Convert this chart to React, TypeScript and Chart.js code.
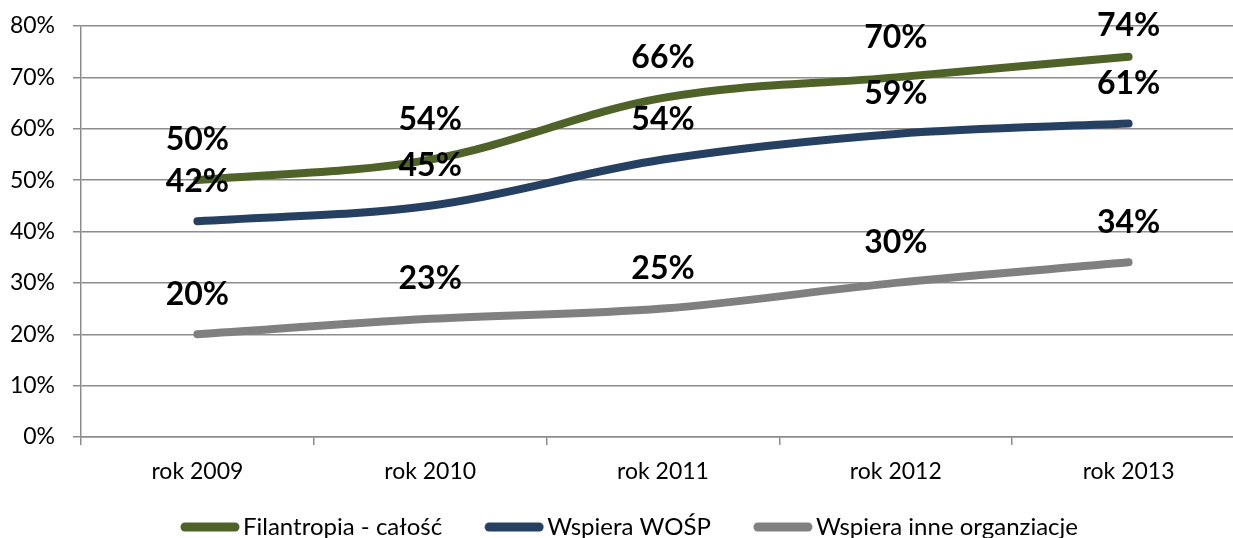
import React, { useEffect, useRef } from 'react';
import { Chart, registerables } from 'chart.js';

Chart.register(...registerables);

const categories = ['rok 2009', 'rok 2010', 'rok 2011', 'rok 2012', 'rok 2013'];
const filantropiaValues = [50, 54, 66, 70, 74];
const wospValues = [42, 45, 54, 59, 61];
const inneValues = [20, 23, 25, 30, 34];
const seriesNames = ['Filantropia - całość', 'Wspiera WOŚP', 'Wspiera inne organziacje'];
const seriesColors = ['#4F6228', '#254061', '#808080'];
const yMin = 0;
const yMax = 80;
const yStep = 10;

const FONT = 'Lato, sans-serif';
const GRID = '#8c8c8c';
const LEGEND_FONT = 24;
const LEGEND_BOX = 64;

function makeSample(color: string): HTMLCanvasElement {
  // visible line (60px) sits at the right end of a wider transparent image
  const w = LEGEND_BOX + LEGEND_FONT * 0.75;
  const c = document.createElement('canvas');
  c.width = Math.round(w);
  c.height = 10;
  const ctx = c.getContext('2d')!;
  ctx.strokeStyle = color;
  ctx.lineWidth = 9;
  ctx.lineCap = 'round';
  ctx.beginPath();
  ctx.moveTo(c.width - 55, 5);
  ctx.lineTo(c.width - 5, 5);
  ctx.stroke();
  return c;
}

const valueLabels = {
  id: 'valueLabels',
  afterDatasetsDraw(chart: any, _args: any, opts: any) {
    const ctx = chart.ctx;
    ctx.save();
    ctx.font = `bold ${opts.size}px ${FONT}`;
    ctx.fillStyle = '#000';
    ctx.textAlign = 'center';
    ctx.textBaseline = 'middle';
    chart.data.datasets.forEach((ds: any, di: number) => {
      const meta = chart.getDatasetMeta(di);
      meta.data.forEach((pt: any, i: number) => {
        const y = Math.max(pt.y - opts.offset, opts.minY);
        ctx.fillText(`${ds.data[i]}%`, pt.x, y);
      });
    });
    ctx.restore();
  },
};

export default function App() {
  const ref = useRef<HTMLCanvasElement | null>(null);

  useEffect(() => {
    if (!ref.current) return;
    const seriesValues = [filantropiaValues, wospValues, inneValues];
    const samples = seriesColors.map(makeSample);
    const chart = new Chart(ref.current, {
      type: 'line',
      data: {
        labels: categories,
        datasets: seriesNames.map((name, i) => ({
          label: name,
          data: seriesValues[i],
          borderColor: seriesColors[i],
          backgroundColor: seriesColors[i],
          borderWidth: 8,
          borderCapStyle: 'round',
          borderJoinStyle: 'round',
          pointRadius: 0,
          pointHoverRadius: 0,
          tension: 0.35,
          fill: false,
        })),
      },
      options: {
        responsive: false,
        animation: false,
        devicePixelRatio: 1,
        layout: { padding: { top: 26, right: 15, left: 0, bottom: 0 } },
        scales: {
          x: {
            offset: true,
            grid: {
              offset: true,
              drawOnChartArea: false,
              drawTicks: true,
              tickLength: 8,
              color: GRID,
              lineWidth: 1.5,
            },
            border: { color: GRID, width: 1.5 },
            ticks: {
              color: '#000',
              padding: 13,
              font: { family: FONT, size: 23 },
              maxRotation: 0,
            },
            afterFit: (s: any) => {
              s.height = 49;
            },
          },
          y: {
            min: yMin,
            max: yMax,
            ticks: {
              stepSize: yStep,
              color: '#000',
              padding: 18,
              font: { family: FONT, size: 23 },
              callback: (v: any) => `${v}%`,
            },
            grid: { color: GRID, lineWidth: 1.5, tickLength: 8 },
            border: { color: GRID, width: 1.5 },
            afterFit: (s: any) => {
              s.width = 81;
              s.paddingTop = 0;
              s.paddingBottom = 0;
            },
          },
        },
        plugins: {
          tooltip: { enabled: false },
          legend: {
            position: 'bottom',
            labels: {
              usePointStyle: true,
              pointStyleWidth: LEGEND_BOX,
              padding: 29,
              color: '#000',
              font: { family: FONT, size: LEGEND_FONT },
              generateLabels: (c: any) => {
                const items = (Chart.defaults.plugins.legend.labels as any).generateLabels(c);
                items.forEach((it: any, i: number) => {
                  it.pointStyle = samples[i];
                  it.lineWidth = 0;
                  it.fontColor = '#000';
                });
                return items;
              },
            },
          },
          valueLabels: { size: 32, offset: 40, minY: 26 },
        } as any,
      },
      plugins: [valueLabels],
    } as any);
    return () => chart.destroy();
  }, []);

  return (
    <div
      style={{
        position: 'absolute',
        left: 0,
        top: 0,
        width: 1233,
        height: 538,
        overflow: 'hidden',
        background: '#fff',
      }}
    >
      <canvas ref={ref} width={1260} height={549} style={{ display: 'block' }} />
    </div>
  );
}
